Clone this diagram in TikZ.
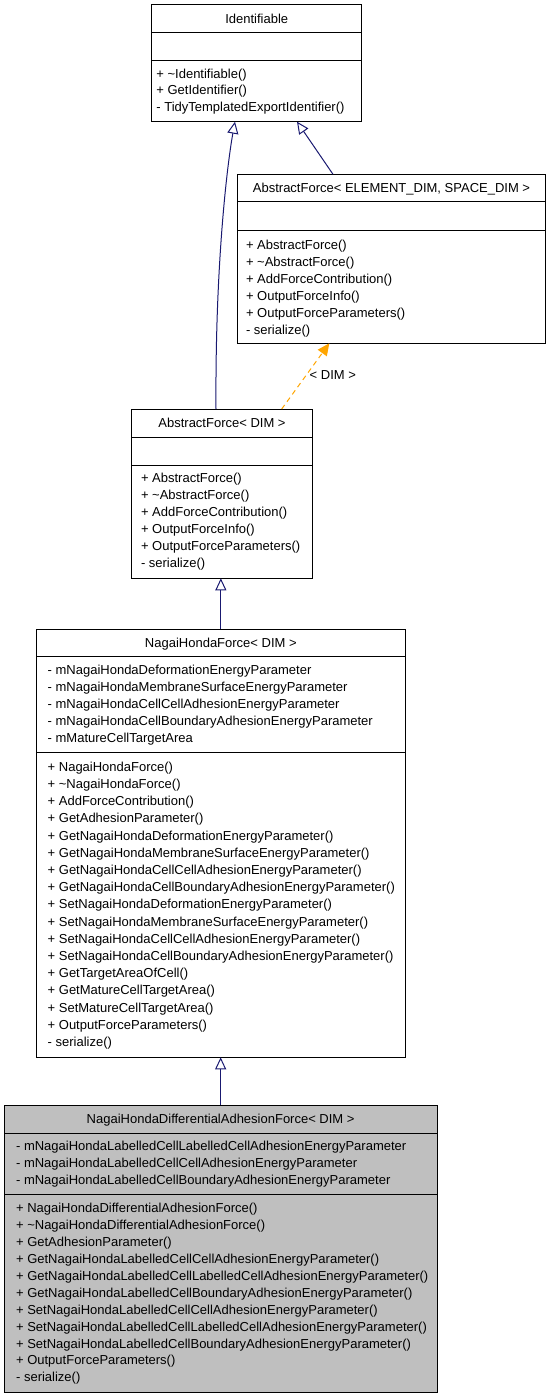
\documentclass[tikz,border=0pt]{standalone}
\usepackage{fontspec}
\setmainfont{Liberation Sans}
\usetikzlibrary{arrows.meta,calc}
\definecolor{edgeblue}{HTML}{191970}
\definecolor{edgeorange}{HTML}{FFA500}
\definecolor{nodegray}{HTML}{BFBFBF}
\tikzset{
  cls/.style={draw=black, line width=1pt, inner sep=0pt, outer sep=0pt, fill=white},
  hl/.style={cls, fill=nodegray},
  txt/.style={inner sep=0pt, font=\fontsize{13}{16}\selectfont},
  sepline/.style={line width=1pt, draw=black},
  inh/.style={draw=edgeblue, line width=1pt, -{Triangle[open, length=12pt, width=11pt]}},
  tmpl/.style={draw=edgeorange, line width=1pt, dash pattern=on 5pt off 4pt, -{Triangle[length=12pt, width=11pt, fill=edgeorange]}},
}
\begin{document}
\begin{tikzpicture}[x=1pt,y=-1pt]
\useasboundingbox (0,0) rectangle (549,1397);

% ---------- boxes ----------
\node[cls, minimum width=210pt, minimum height=117pt] (A) at (256.7,63.2) {};
\node[cls, minimum width=308.4pt, minimum height=169pt] (B) at (391.5,258.8) {};
\node[cls, minimum width=180.6pt, minimum height=169.3pt] (C) at (222,493.65) {};
\node[cls, minimum width=368.3pt, minimum height=428.3pt] (D) at (220.85,843.15) {};
\node[hl, minimum width=433.3pt, minimum height=287.3pt] (E) at (220.65,1248.65) {};

% separators
\draw[sepline] (A.west |- 0,32.7) -- (A.east |- 0,32.7);
\draw[sepline] (A.west |- 0,61) -- (A.east |- 0,61);
\draw[sepline] (B.west |- 0,201.7) -- (B.east |- 0,201.7);
\draw[sepline] (B.west |- 0,230) -- (B.east |- 0,230);
\draw[sepline] (C.west |- 0,437.3) -- (C.east |- 0,437.3);
\draw[sepline] (C.west |- 0,465) -- (C.east |- 0,465);
\draw[sepline] (D.west |- 0,656.7) -- (D.east |- 0,656.7);
\draw[sepline] (D.west |- 0,752.7) -- (D.east |- 0,752.7);
\draw[sepline] (E.west |- 0,1133.3) -- (E.east |- 0,1133.3);
\draw[sepline] (E.west |- 0,1194.3) -- (E.east |- 0,1194.3);

% ---------- titles ----------
\node[txt, anchor=base] (At) at (256.7,23.4) {Identifiable};
\node[txt, anchor=base] (Bt) at (391.5,192.7) {AbstractForce< ELEMENT\_DIM, SPACE\_DIM >};
\node[txt, anchor=base] (Ct) at (222,427.9) {AbstractForce< DIM >};
\node[txt, anchor=base] (Dt) at (220.85,647.6) {NagaiHondaForce< DIM >};
\node[txt, anchor=base] (Et) at (220.65,1123.9) {NagaiHondaDifferentialAdhesionForce< DIM >};

% ---------- members ----------
\foreach \t [count=\i from 0] in {+ \textasciitilde Identifiable(), + GetIdentifier(), - TidyTemplatedExportIdentifier()}
  {\node[txt, anchor=base west] (Am\i) at (156.2,{78.3+16.7*\i}) {\t};}

\foreach \t [count=\i from 0] in {+ AbstractForce(), + \textasciitilde AbstractForce(), + AddForceContribution(), + OutputForceInfo(), + OutputForceParameters(), - serialize()}
  {\node[txt, anchor=base west] (Bm\i) at (245.8,{249.5+16.9*\i}) {\t};}

\foreach \t [count=\i from 0] in {+ AbstractForce(), + \textasciitilde AbstractForce(), + AddForceContribution(), + OutputForceInfo(), + OutputForceParameters(), - serialize()}
  {\node[txt, anchor=base west] (Cm\i) at (140.8,{482.8+17*\i}) {\t};}

\foreach \t [count=\i from 0] in {- mNagaiHondaDeformationEnergyParameter, - mNagaiHondaMembraneSurfaceEnergyParameter, - mNagaiHondaCellCellAdhesionEnergyParameter, - mNagaiHondaCellBoundaryAdhesionEnergyParameter, - mMatureCellTargetArea}
  {\node[txt, anchor=base west] (Da\i) at (47.5,{674.5+17*\i}) {\t};}

\foreach \t [count=\i from 0] in {+ NagaiHondaForce(), + \textasciitilde NagaiHondaForce(), + AddForceContribution(), + GetAdhesionParameter(), + GetNagaiHondaDeformationEnergyParameter(), + GetNagaiHondaMembraneSurfaceEnergyParameter(), + GetNagaiHondaCellCellAdhesionEnergyParameter(), + GetNagaiHondaCellBoundaryAdhesionEnergyParameter(), + SetNagaiHondaDeformationEnergyParameter(), + SetNagaiHondaMembraneSurfaceEnergyParameter(), + SetNagaiHondaCellCellAdhesionEnergyParameter(), + SetNagaiHondaCellBoundaryAdhesionEnergyParameter(), + GetTargetAreaOfCell(), + GetMatureCellTargetArea(), + SetMatureCellTargetArea(), + OutputForceParameters(), - serialize()}
  {\node[txt, anchor=base west] (Dm\i) at (47.5,{771.2+17.2*\i}) {\t};}

\foreach \t [count=\i from 0] in {- mNagaiHondaLabelledCellLabelledCellAdhesionEnergyParameter, - mNagaiHondaLabelledCellCellAdhesionEnergyParameter, - mNagaiHondaLabelledCellBoundaryAdhesionEnergyParameter}
  {\node[txt, anchor=base west] (Ea\i) at (15.9,{1150.2+17*\i}) {\t};}

\foreach \t [count=\i from 0] in {+ NagaiHondaDifferentialAdhesionForce(), + \textasciitilde NagaiHondaDifferentialAdhesionForce(), + GetAdhesionParameter(), + GetNagaiHondaLabelledCellCellAdhesionEnergyParameter(), + GetNagaiHondaLabelledCellLabelledCellAdhesionEnergyParameter(), + GetNagaiHondaLabelledCellBoundaryAdhesionEnergyParameter(), + SetNagaiHondaLabelledCellCellAdhesionEnergyParameter(), + SetNagaiHondaLabelledCellLabelledCellAdhesionEnergyParameter(), + SetNagaiHondaLabelledCellBoundaryAdhesionEnergyParameter(), + OutputForceParameters(), - serialize()}
  {\node[txt, anchor=base west] (Em\i) at (15.9,{1212.8+16.9*\i}) {\t};}

% ---------- connectors ----------
\coordinate (cStart) at ($(C.north)+(-6,0)$);
\coordinate (cEnd) at ($(A.south)+(-21.7,0)$);
\draw[inh] (cStart) .. controls ($(cStart)+(-1,-149)$) and ($(cEnd)+(-7,38)$) .. (cEnd);

\draw[inh] ($(B.north)+(-58.5,0)$) -- ($(A.south)+(40.3,0)$);

\draw[tmpl] ($(C.north)+(59.7,0)$) -- ($(B.south)+(-62.2,0)$);
\node[txt, anchor=base] (lbl) at (332.8,379) {< DIM >};

\draw[inh] (D.north) -- (D.north |- C.south);
\draw[inh] (E.north) -- (E.north |- D.south);
\end{tikzpicture}
\end{document}
